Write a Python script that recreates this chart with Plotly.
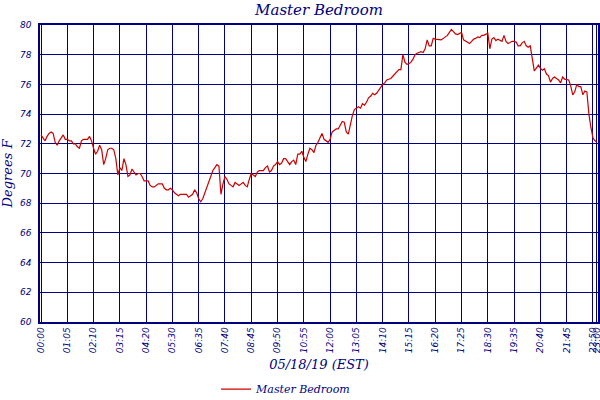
import plotly.graph_objects as go

NAVY = "#000080"
LINE_RED = "#cc0000"

# sample times, 5 minute steps (one reading missing before 05:30)
times = []
for m in range(0, 23 * 60 + 1, 5):
    if m == 4 * 60 + 50:
        continue
    times.append(f"{m // 60:02d}:{m % 60:02d}")

temps = [
    72.6, 72.4, 72.2, 72.5, 72.7, 72.8, 72.7, 72.1, 71.9, 72.2, 72.4, 72.6,
    72.3, 72.3, 72.2, 72.2, 72.0, 72.0, 71.8, 71.7, 72.2, 72.3, 72.3, 72.3,
    72.5, 72.2, 71.7, 71.3, 71.5, 71.9, 71.6, 70.6, 71.0, 71.6, 71.7, 71.7,
    71.6, 71.0, 69.9, 70.4, 70.2, 71.0, 70.6, 69.8, 69.9, 70.3, 70.1, 69.9,
    70.0, 70.0, 69.8, 69.5, 69.5, 69.5, 69.2, 69.1, 69.1, 69.2, 69.3, 69.3,
    69.3, 69.0, 68.9, 68.9, 69.0, 68.9, 68.7, 68.6, 68.5, 68.6, 68.6, 68.6,
    68.6, 68.4, 68.5, 68.6, 68.9, 68.7, 68.3, 68.1, 68.3, 68.7, 69.0, 69.4,
    69.8, 70.2, 70.4, 70.6, 70.5, 68.6, 69.3, 69.8, 69.6, 69.3, 69.2, 69.1,
    69.4, 69.3, 69.2, 69.3, 69.4, 69.2, 69.1, 69.6, 70.0, 69.9, 69.8, 70.1,
    70.2, 70.2, 70.2, 70.4, 70.5, 70.1, 70.2, 70.5, 70.6, 70.8, 70.6, 70.7,
    71.0, 71.0, 70.8, 70.6, 70.8, 70.9, 70.6, 71.3, 71.3, 71.5, 71.1, 70.8,
    71.3, 71.7, 71.6, 71.4, 71.9, 72.1, 72.4, 72.7, 72.3, 72.2, 72.1, 72.3,
    72.8, 72.9, 73.0, 73.0, 73.3, 73.5, 73.45, 72.8, 72.65, 73.4, 73.9, 74.3,
    74.4, 74.5, 74.4, 74.7, 74.6, 74.8, 75.1, 75.2, 75.4, 75.3, 75.4, 75.6,
    75.85, 76.0, 76.1, 76.3, 76.35, 76.4, 76.55, 76.7, 76.8, 77.0, 77.0, 78.0,
    77.5, 77.35, 77.4, 77.5, 77.7, 78.0, 78.1, 78.15, 78.2, 78.15, 78.4, 79.0,
    78.6, 78.6, 79.1, 79.05, 79.05, 79.05, 79.0, 79.1, 79.2, 79.3, 79.5, 79.7,
    79.55, 79.4, 79.35, 79.4, 79.5, 79.0, 78.9, 78.85, 78.75, 78.9, 79.05, 79.1,
    79.2, 79.15, 79.3, 79.3, 79.4, 79.45, 78.4, 79.05, 79.15, 78.95, 79.05, 78.95,
    78.9, 79.3, 78.9, 78.75, 78.85, 78.9, 78.9, 78.85, 78.6, 78.6, 78.8, 78.9,
    78.6, 78.5, 78.6, 77.8, 76.9, 77.1, 77.3, 77.1, 76.95, 77.05, 76.7, 76.6,
    76.15, 76.4, 76.5, 76.4, 76.3, 76.1, 76.5, 76.35, 76.3, 76.3, 75.9, 75.3,
    75.5, 76.0, 75.85, 75.85, 75.3, 75.55, 75.5, 74.0, 73.1, 72.4, 72.2, 72.1,
]

tick_labels = [
    "00:00", "01:05", "02:10", "03:15", "04:20", "05:30", "06:35", "07:40",
    "08:45", "09:50", "10:55", "12:00", "13:05", "14:10", "15:15", "16:20",
    "17:25", "18:30", "19:35", "20:40", "21:45", "22:50", "23:00",
]
y_ticks = [60, 62, 64, 66, 68, 70, 72, 74, 76, 78, 80]

fig = go.Figure()
fig.add_trace(
    go.Scatter(
        x=times,
        y=temps,
        mode="lines",
        name="Master Bedroom",
        line=dict(color=LINE_RED, width=1.2),
    )
)

tick_font = dict(family="DejaVu Sans", size=9, color=NAVY, style="italic")
label_font = dict(family="DejaVu Serif", color=NAVY, style="italic")

fig.update_layout(
    width=600,
    height=400,
    paper_bgcolor="white",
    plot_bgcolor="white",
    margin=dict(l=40, r=2, t=25, b=78, autoexpand=False),
    title=dict(
        text="Master Bedroom",
        x=0.5,
        xref="paper",
        xanchor="center",
        y=0.975,
        yref="container",
        yanchor="middle",
        automargin=False,
        font=dict(size=15, **label_font),
    ),
    showlegend=True,
    legend=dict(
        orientation="h",
        x=0.441,
        xanchor="center",
        y=-0.226,
        yanchor="middle",
        itemwidth=30,
        font=dict(size=11, **label_font),
    ),
    xaxis=dict(
        type="category",
        range=[-0.5, len(times) - 0.5],
        automargin=False,
        tickmode="array",
        tickvals=tick_labels,
        ticktext=tick_labels,
        tickangle=-90,
        tickfont=tick_font,
        showgrid=True,
        gridcolor=NAVY,
        gridwidth=1.2,
        showline=True,
        linecolor=NAVY,
        linewidth=1.5,
        mirror=True,
        ticks="",
        title=dict(text="05/18/19 (EST)", font=dict(size=13, **label_font), standoff=8),
    ),
    yaxis=dict(
        range=[60, 80],
        automargin=False,
        tickmode="array",
        tickvals=y_ticks,
        tickfont=tick_font,
        showgrid=True,
        gridcolor=NAVY,
        gridwidth=1.2,
        showline=True,
        linecolor=NAVY,
        linewidth=1.5,
        mirror=True,
        zeroline=False,
        ticks="",
        ticklabelstandoff=5,
        title=dict(text="Degrees F", font=dict(size=13, **label_font), standoff=6),
    ),
)

# the page body has a default 8px margin; drop it so the figure fills the window
fig.write_html(
    "out.html",
    config={"displayModeBar": False},
    post_script="document.body.style.margin = '0';",
)
